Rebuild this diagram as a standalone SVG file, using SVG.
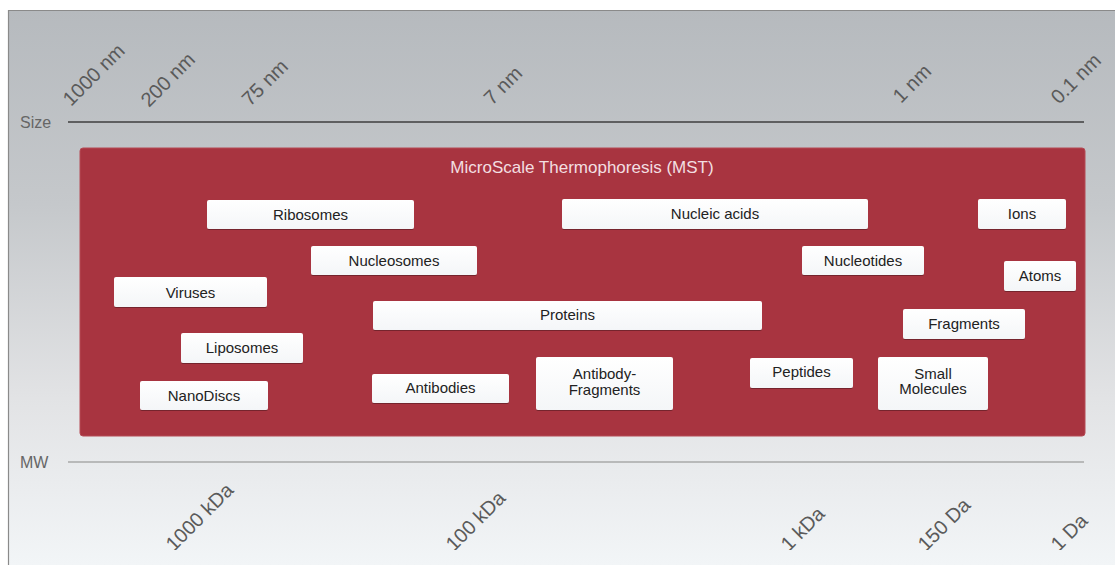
<svg xmlns="http://www.w3.org/2000/svg" width="1115" height="565" viewBox="0 0 1115 565">
  <defs>
    <linearGradient id="bg" x1="0" y1="0" x2="0" y2="1">
      <stop offset="0" stop-color="#b6babe"/>
      <stop offset="0.35" stop-color="#c5c8cb"/>
      <stop offset="0.7" stop-color="#e2e3e5"/>
      <stop offset="1" stop-color="#f2f5f7"/>
    </linearGradient>
    <linearGradient id="boxg" x1="0" y1="0" x2="0" y2="1">
      <stop offset="0" stop-color="#ffffff"/>
      <stop offset="1" stop-color="#f4f6f8"/>
    </linearGradient>
    <filter id="sh" x="-10%" y="-20%" width="120%" height="150%">
      <feDropShadow dx="0" dy="1" stdDeviation="0.7" flood-color="#000" flood-opacity="0.3"/>
    </filter>
    <clipPath id="clipbot">
      <rect x="0" y="0" width="1115" height="550"/>
    </clipPath>
    <style>
      .box { fill: url(#boxg); filter: url(#sh); }
      .lbl { font-family: "Liberation Sans", Arial, sans-serif; font-size: 15px; fill: #222; text-anchor: middle; }
      .ax { font-family: "Liberation Sans", Arial, sans-serif; font-size: 16px; fill: #666; }
      .tick { font-family: "Liberation Sans", Arial, sans-serif; font-size: 20px; fill: #5a5a5a; }
      .title { font-family: "Liberation Sans", Arial, sans-serif; font-size: 17px; fill: #f3dfe1; text-anchor: middle; }
    </style>
  </defs>

  <rect x="0" y="0" width="1115" height="565" fill="#ffffff"/>
  <rect x="8" y="10" width="1107" height="555" fill="url(#bg)"/>
  <path d="M8.5 565 V10.5 H1115" fill="none" stroke="#8a8a8a" stroke-width="1.2"/>

  <g id="size-axis">
    <text class="ax" x="20" y="128">Size</text>
    <line x1="68" y1="122" x2="1084" y2="122" stroke="#3e3e3e" stroke-width="1.6"/>
    <g class="tick">
      <text x="71" y="107" transform="rotate(-45 71 107)">1000 nm</text>
      <text x="149" y="108" transform="rotate(-45 149 108)">200 nm</text>
      <text x="250" y="107" transform="rotate(-45 250 107)">75 nm</text>
      <text x="492" y="106" transform="rotate(-45 492 106)">7 nm</text>
      <text x="901" y="104" transform="rotate(-45 901 104)">1 nm</text>
      <text x="1059" y="105" transform="rotate(-45 1059 105)">0.1 nm</text>
    </g>
  </g>

  <g id="mw-axis">
    <text class="ax" x="20" y="468">MW</text>
    <line x1="68" y1="462" x2="1084" y2="462" stroke="#a9a9a9" stroke-width="1.6"/>
    <g class="tick" clip-path="url(#clipbot)">
      <text x="174" y="552" transform="rotate(-45 174 552)">1000 kDa</text>
      <text x="454" y="552" transform="rotate(-45 454 552)">100 kDa</text>
      <text x="789" y="552" transform="rotate(-45 789 552)">1 kDa</text>
      <text x="926" y="552" transform="rotate(-45 926 552)">150 Da</text>
      <text x="1059" y="552" transform="rotate(-45 1059 552)">1 Da</text>
    </g>
  </g>

  <g id="mst">
    <rect x="80" y="148" width="1005" height="288" rx="3" fill="#a83440" stroke="#b54a55" stroke-width="1"/>
    <text class="title" x="582" y="173">MicroScale Thermophoresis (MST)</text>
  </g>

  <g id="ribosomes"><rect class="box" x="207" y="200" width="207" height="29" rx="2"/><text class="lbl" x="310.5" y="220">Ribosomes</text></g>
  <g id="nucleic-acids"><rect class="box" x="562" y="199" width="306" height="30" rx="2"/><text class="lbl" x="715" y="219">Nucleic acids</text></g>
  <g id="ions"><rect class="box" x="978" y="199" width="88" height="30" rx="2"/><text class="lbl" x="1022" y="219">Ions</text></g>
  <g id="nucleosomes"><rect class="box" x="311" y="246" width="166" height="29" rx="2"/><text class="lbl" x="394" y="266">Nucleosomes</text></g>
  <g id="nucleotides"><rect class="box" x="802" y="246" width="122" height="29" rx="2"/><text class="lbl" x="863" y="266">Nucleotides</text></g>
  <g id="atoms"><rect class="box" x="1004" y="261" width="72" height="30" rx="2"/><text class="lbl" x="1040" y="281">Atoms</text></g>
  <g id="viruses"><rect class="box" x="114" y="277" width="153" height="30" rx="2"/><text class="lbl" x="190.5" y="298">Viruses</text></g>
  <g id="proteins"><rect class="box" x="373" y="301" width="389" height="29" rx="2"/><text class="lbl" x="567.5" y="320">Proteins</text></g>
  <g id="fragments"><rect class="box" x="903" y="309" width="122" height="30" rx="2"/><text class="lbl" x="964" y="329">Fragments</text></g>
  <g id="liposomes"><rect class="box" x="181" y="333" width="122" height="30" rx="2"/><text class="lbl" x="242" y="353">Liposomes</text></g>
  <g id="peptides"><rect class="box" x="750" y="358" width="103" height="30" rx="2"/><text class="lbl" x="801.5" y="377">Peptides</text></g>
  <g id="antibody-fragments"><rect class="box" x="536" y="357" width="137" height="53" rx="2"/><text class="lbl" x="604.5" y="379">Antibody-</text><text class="lbl" x="604.5" y="395">Fragments</text></g>
  <g id="small-molecules"><rect class="box" x="878" y="357" width="110" height="53" rx="2"/><text class="lbl" x="933" y="379">Small</text><text class="lbl" x="933" y="394">Molecules</text></g>
  <g id="antibodies"><rect class="box" x="372" y="374" width="137" height="29" rx="2"/><text class="lbl" x="440.5" y="393">Antibodies</text></g>
  <g id="nanodiscs"><rect class="box" x="140" y="381" width="128" height="29" rx="2"/><text class="lbl" x="204" y="401">NanoDiscs</text></g>
</svg>
